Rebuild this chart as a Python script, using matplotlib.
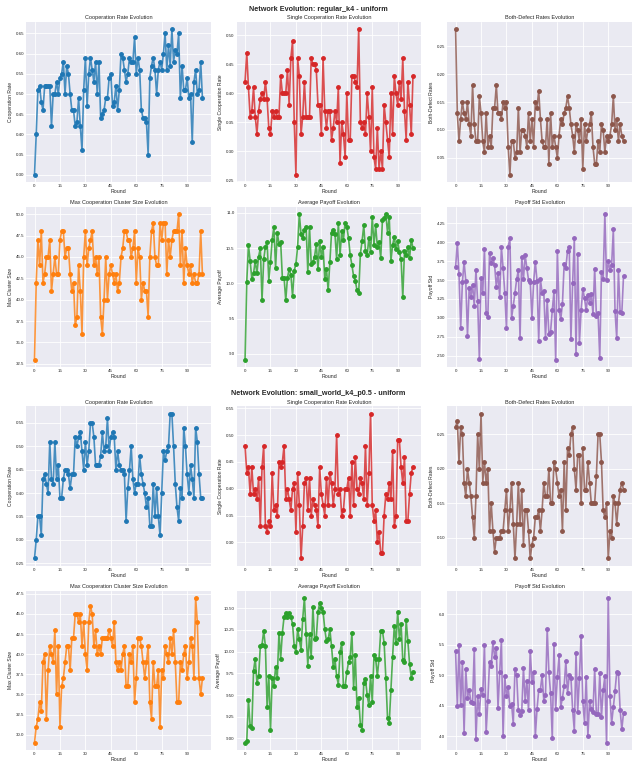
import matplotlib
matplotlib.use("Agg")
import matplotlib.pyplot as plt
from matplotlib.gridspec import GridSpec
from matplotlib.ticker import MultipleLocator
import numpy as np

# --- regular_k4 ---
coop_reg = [0.30, 0.40, 0.51, 0.52, 0.48, 0.46, 0.52, 0.52, 0.52, 0.52,
            0.42, 0.50, 0.50, 0.53, 0.50, 0.54, 0.55, 0.58, 0.50, 0.57,
            0.55, 0.50, 0.46, 0.46, 0.42, 0.43, 0.49, 0.42, 0.36, 0.51,
            0.59, 0.47, 0.55, 0.59, 0.56, 0.53, 0.58, 0.50, 0.58, 0.44,
            0.45, 0.46, 0.49, 0.49, 0.54, 0.55, 0.47, 0.48, 0.52, 0.46,
            0.51, 0.60, 0.59, 0.56, 0.53, 0.55, 0.59, 0.58, 0.58, 0.64,
            0.55, 0.59, 0.56, 0.46, 0.44, 0.44, 0.43, 0.35, 0.54, 0.57,
            0.59, 0.56, 0.50, 0.56, 0.58, 0.56, 0.60, 0.65, 0.56, 0.62,
            0.57, 0.66, 0.58, 0.61, 0.60, 0.65, 0.49, 0.57, 0.51, 0.51,
            0.54, 0.49, 0.50, 0.38, 0.53, 0.56, 0.50, 0.51, 0.58, 0.49]
single_reg = [0.42, 0.47, 0.41, 0.36, 0.37, 0.41, 0.36, 0.33, 0.37, 0.39,
              0.40, 0.39, 0.42, 0.39, 0.34, 0.33, 0.37, 0.36, 0.37, 0.36,
              0.36, 0.43, 0.40, 0.40, 0.40, 0.44, 0.38, 0.46, 0.49, 0.35,
              0.26, 0.46, 0.43, 0.33, 0.36, 0.42, 0.36, 0.36, 0.36, 0.46,
              0.45, 0.45, 0.44, 0.38, 0.38, 0.33, 0.46, 0.37, 0.34, 0.37,
              0.37, 0.32, 0.34, 0.37, 0.35, 0.41, 0.28, 0.35, 0.33, 0.29,
              0.40, 0.32, 0.32, 0.43, 0.43, 0.42, 0.41, 0.51, 0.35, 0.34,
              0.35, 0.33, 0.40, 0.36, 0.30, 0.41, 0.29, 0.27, 0.34, 0.27,
              0.30, 0.27, 0.38, 0.35, 0.32, 0.29, 0.40, 0.33, 0.43, 0.40,
              0.38, 0.42, 0.39, 0.46, 0.37, 0.32, 0.42, 0.38, 0.33, 0.43]
defect_reg = [0.28, 0.13, 0.08, 0.12, 0.15, 0.13, 0.12, 0.15, 0.11, 0.09,
              0.18, 0.11, 0.08, 0.08, 0.16, 0.13, 0.08, 0.06, 0.13, 0.07,
              0.09, 0.07, 0.14, 0.14, 0.18, 0.13, 0.13, 0.12, 0.15, 0.14,
              0.15, 0.07, 0.02, 0.08, 0.08, 0.05, 0.06, 0.14, 0.06, 0.10,
              0.10, 0.09, 0.07, 0.13, 0.08, 0.12, 0.07, 0.15, 0.14, 0.17,
              0.12, 0.08, 0.07, 0.07, 0.12, 0.04, 0.13, 0.07, 0.09, 0.07,
              0.05, 0.09, 0.12, 0.11, 0.13, 0.14, 0.16, 0.14, 0.11, 0.09,
              0.06, 0.11, 0.10, 0.08, 0.12, 0.03, 0.11, 0.08, 0.10, 0.11,
              0.13, 0.07, 0.04, 0.04, 0.08, 0.06, 0.11, 0.10, 0.06, 0.09,
              0.08, 0.09, 0.11, 0.16, 0.10, 0.12, 0.08, 0.11, 0.09, 0.08]
cluster_reg = [33, 42, 47, 44, 48, 42, 43, 45, 45, 47,
               41, 43, 45, 43, 43, 47, 48, 48, 45, 46,
               46, 43, 41, 42, 37, 38, 44, 41, 36, 45,
               48, 44, 46, 47, 48, 44, 45, 43, 45, 38,
               36, 40, 45, 40, 43, 44, 43, 42, 43, 41,
               42, 45, 46, 48, 48, 47, 47, 45, 46, 48,
               42, 46, 45, 40, 42, 41, 41, 38, 45, 48,
               49, 45, 44, 44, 49, 47, 49, 49, 43, 47,
               45, 47, 48, 48, 48, 50, 44, 48, 42, 46,
               44, 43, 44, 42, 43, 42, 42, 43, 48, 43]
payoff_reg = [8.92, 10.02, 10.54, 10.32, 10.06, 10.14, 10.32, 10.14, 10.38, 10.50,
              9.76, 10.34, 10.52, 10.58, 10.04, 10.30, 10.62, 10.80, 10.22, 10.72,
              10.56, 10.58, 10.08, 10.08, 9.76, 10.08, 10.20, 10.12, 9.82, 10.18,
              10.28, 10.52, 10.98, 10.70, 10.64, 10.76, 10.80, 10.16, 10.80, 10.28,
              10.30, 10.38, 10.56, 10.20, 10.60, 10.38, 10.52, 10.06, 10.20, 9.90,
              10.30, 10.72, 10.76, 10.70, 10.34, 10.86, 10.40, 10.74, 10.62, 10.86,
              10.80, 10.64, 10.40, 10.26, 10.10, 10.04, 9.90, 9.86, 10.42, 10.60,
              10.82, 10.46, 10.40, 10.64, 10.44, 10.94, 10.54, 10.82, 10.52, 10.58,
              10.36, 10.90, 10.92, 10.98, 10.72, 10.94, 10.32, 10.54, 10.66, 10.48,
              10.60, 10.44, 10.34, 9.80, 10.46, 10.40, 10.52, 10.36, 10.62, 10.50]
std_reg = [3.67, 3.99, 3.58, 2.87, 3.47, 3.74, 3.49, 2.76, 3.40, 3.28,
           3.44, 3.16, 3.63, 3.22, 2.46, 3.53, 3.33, 3.91, 3.07, 3.01,
           3.86, 3.73, 3.79, 3.70, 3.41, 3.59, 3.28, 3.93, 3.66, 3.33,
           2.86, 3.94, 4.05, 3.00, 3.16, 3.33, 3.51, 3.63, 2.73, 3.81,
           3.51, 3.83, 3.66, 3.50, 3.48, 3.00, 3.47, 3.74, 3.49, 2.70,
           3.51, 3.33, 3.35, 2.74, 3.23, 2.79, 2.82, 3.10, 3.35, 2.45,
           3.88, 3.11, 2.98, 3.19, 3.71, 3.66, 3.89, 3.93, 2.72, 3.46,
           4.05, 2.52, 3.84, 2.67, 3.10, 3.38, 3.26, 3.10, 3.30, 3.20,
           3.32, 3.05, 3.65, 3.03, 3.06, 2.47, 3.61, 3.51, 4.37, 3.50,
           3.75, 3.63, 3.70, 4.17, 3.09, 2.73, 3.63, 3.08, 3.06, 3.55]

# --- small_world_k4_p0.5 ---
coop_sw = [0.26, 0.30, 0.35, 0.35, 0.31, 0.43, 0.44, 0.42, 0.40, 0.51,
           0.43, 0.42, 0.51, 0.43, 0.46, 0.39, 0.39, 0.43, 0.45, 0.45,
           0.44, 0.41, 0.44, 0.44, 0.52, 0.50, 0.52, 0.53, 0.49, 0.45,
           0.51, 0.46, 0.49, 0.55, 0.55, 0.52, 0.46, 0.46, 0.46, 0.48,
           0.53, 0.49, 0.50, 0.56, 0.49, 0.52, 0.53, 0.52, 0.45, 0.49,
           0.46, 0.45, 0.45, 0.44, 0.34, 0.41, 0.45, 0.50, 0.43, 0.40,
           0.42, 0.42, 0.48, 0.44, 0.42, 0.40, 0.37, 0.39, 0.33, 0.33,
           0.42, 0.35, 0.41, 0.35, 0.31, 0.40, 0.49, 0.47, 0.49, 0.50,
           0.57, 0.57, 0.50, 0.42, 0.37, 0.34, 0.41, 0.39, 0.54, 0.50,
           0.44, 0.40, 0.46, 0.43, 0.39, 0.54, 0.51, 0.44, 0.39, 0.39]
single_sw = [0.48, 0.43, 0.44, 0.39, 0.44, 0.39, 0.40, 0.38, 0.42, 0.33,
             0.44, 0.48, 0.33, 0.32, 0.34, 0.33, 0.43, 0.36, 0.37, 0.35,
             0.45, 0.44, 0.45, 0.48, 0.38, 0.40, 0.38, 0.36, 0.40, 0.41,
             0.32, 0.43, 0.37, 0.27, 0.33, 0.41, 0.42, 0.36, 0.42, 0.35,
             0.38, 0.37, 0.36, 0.33, 0.44, 0.39, 0.37, 0.35, 0.42, 0.37,
             0.43, 0.41, 0.37, 0.40, 0.50, 0.39, 0.40, 0.35, 0.36, 0.40,
             0.40, 0.42, 0.35, 0.45, 0.37, 0.46, 0.40, 0.39, 0.42, 0.41,
             0.38, 0.48, 0.37, 0.43, 0.54, 0.37, 0.34, 0.36, 0.30, 0.32,
             0.28, 0.28, 0.35, 0.39, 0.38, 0.41, 0.38, 0.47, 0.33, 0.35,
             0.49, 0.49, 0.44, 0.41, 0.46, 0.34, 0.34, 0.39, 0.43, 0.44]
defect_sw = [0.26, 0.27, 0.21, 0.26, 0.25, 0.18, 0.16, 0.20, 0.18, 0.16,
             0.13, 0.10, 0.16, 0.25, 0.20, 0.28, 0.18, 0.21, 0.18, 0.20,
             0.11, 0.15, 0.11, 0.08, 0.10, 0.10, 0.10, 0.11, 0.11, 0.14,
             0.17, 0.11, 0.14, 0.18, 0.12, 0.07, 0.12, 0.18, 0.12, 0.17,
             0.09, 0.14, 0.14, 0.11, 0.07, 0.09, 0.10, 0.13, 0.13, 0.14,
             0.11, 0.14, 0.18, 0.16, 0.16, 0.20, 0.15, 0.15, 0.21, 0.20,
             0.18, 0.16, 0.17, 0.11, 0.21, 0.14, 0.23, 0.22, 0.25, 0.26,
             0.20, 0.17, 0.22, 0.22, 0.15, 0.23, 0.17, 0.17, 0.21, 0.18,
             0.15, 0.15, 0.15, 0.19, 0.25, 0.25, 0.21, 0.14, 0.13, 0.15,
             0.07, 0.11, 0.10, 0.16, 0.15, 0.12, 0.15, 0.17, 0.18, 0.17]
cluster_sw = [29, 31, 32, 34, 33, 39, 40, 32, 38, 41,
              40, 39, 43, 35, 41, 31, 36, 37, 39, 41,
              41, 38, 42, 42, 45, 45, 44, 45, 41, 44,
              40, 38, 44, 46, 45, 41, 43, 40, 41, 40,
              42, 42, 42, 42, 43, 42, 41, 44, 39, 38,
              39, 38, 40, 41, 36, 36, 40, 39, 41, 34,
              37, 42, 42, 41, 39, 37, 39, 41, 34, 32,
              39, 36, 36, 38, 31, 38, 37, 41, 40, 39,
              42, 40, 43, 39, 34, 34, 39, 38, 40, 41,
              37, 39, 42, 41, 37, 47, 44, 37, 35, 37]
payoff_sw = [8.95, 8.97, 9.44, 9.14, 9.12, 9.78, 9.92, 9.64, 9.72, 10.06,
             10.08, 10.24, 10.06, 9.36, 9.72, 9.10, 9.70, 9.60, 9.82, 9.70,
             10.22, 9.92, 10.22, 10.40, 10.44, 10.40, 10.44, 10.40, 10.32, 10.06,
             10.00, 10.26, 10.14, 10.02, 10.38, 10.62, 10.20, 9.84, 10.20, 9.94,
             10.52, 10.14, 10.16, 10.46, 10.56, 10.50, 10.46, 10.26, 10.12, 10.14,
             10.26, 10.06, 9.82, 9.92, 9.72, 9.62, 10.00, 10.10, 9.60, 9.60,
             9.76, 9.88, 9.94, 10.22, 9.58, 9.96, 9.36, 9.46, 9.16, 9.10,
             9.64, 9.68, 9.50, 9.38, 9.72, 9.42, 9.96, 9.92, 9.72, 9.92,
             10.24, 10.24, 10.10, 9.70, 9.24, 9.18, 9.56, 9.94, 10.30, 10.10,
             10.46, 10.14, 10.32, 9.90, 9.88, 10.36, 10.12, 9.86, 9.70, 9.76]
std_sw = [5.39, 4.49, 5.49, 4.51, 5.21, 4.05, 5.10, 4.63, 4.76, 4.56,
          4.55, 5.43, 3.95, 4.66, 4.37, 4.78, 4.67, 5.50, 4.06, 4.58,
          5.22, 5.15, 5.54, 5.30, 5.44, 4.46, 5.05, 5.57, 4.00, 4.99,
          4.65, 4.80, 4.49, 4.53, 4.20, 5.10, 5.00, 4.42, 4.35, 4.41,
          5.12, 4.58, 4.90, 4.42, 5.40, 4.89, 5.05, 4.00, 4.44, 4.75,
          4.76, 5.00, 4.58, 4.67, 5.76, 5.05, 4.70, 3.96, 5.51, 4.44,
          4.97, 5.33, 4.48, 4.63, 4.82, 5.23, 4.70, 5.00, 4.96, 4.43,
          4.09, 5.37, 4.40, 4.96, 5.65, 4.57, 4.22, 4.97, 4.00, 4.58,
          4.45, 4.40, 5.10, 4.37, 4.36, 5.03, 4.32, 4.75, 4.98, 3.89,
          6.27, 4.65, 4.21, 4.47, 4.74, 5.05, 5.04, 4.43, 4.11, 4.38]

TITULOS = ["Cooperation Rate Evolution", "Single Cooperation Rate Evolution",
           "Both-Defect Rates Evolution", "Max Cooperation Cluster Size Evolution",
           "Average Payoff Evolution", "Payoff Std Evolution"]
ETIQUETAS = ["Cooperation Rate", "Single Cooperation Rate", "Both-Defect Rates",
             "Max Cluster Size", "Average Payoff", "Payoff Std"]
COLORES = ["#1f77b4", "#d62728", "#8c564b", "#ff7f0e", "#2ca02c", "#9467bd"]

plt.style.use("seaborn-v0_8-darkgrid")
plt.rcParams["font.family"] = ["Liberation Sans", "DejaVu Sans"]


def bloque(fig, gs, titulo, series):
    for i, datos in enumerate(series):
        ax = fig.add_subplot(gs[i // 3, i % 3])
        x = np.arange(len(datos))
        ax.plot(x, datos, color=COLORES[i], linewidth=1.2, alpha=0.8)
        ax.plot(x, datos, "o", color=COLORES[i], markersize=2.5)
        ax.set_title(TITULOS[i], fontsize=4, pad=2)
        ax.set_ylabel(ETIQUETAS[i], fontsize=3.6, labelpad=2)
        ax.set_xlabel("Round", fontsize=3.8, labelpad=1)
        ax.xaxis.set_major_locator(MultipleLocator(15))
        ax.tick_params(labelsize=3.2, pad=1.5, length=0)
        ax.grid(True, color="white", linewidth=0.6)
    top = gs.top
    fig.text(0.5, top + 0.012, titulo, ha="center", va="bottom",
             fontsize=5.2, fontweight="bold")


fig = plt.figure(figsize=(6.37, 7.61), dpi=100)
fig.patch.set_facecolor("white")

gs1 = GridSpec(2, 3, figure=fig, left=0.041, right=0.992, top=0.971, bottom=0.518,
               wspace=0.14, hspace=0.156)
gs2 = GridSpec(2, 3, figure=fig, left=0.041, right=0.992, top=0.466, bottom=0.0145,
               wspace=0.14, hspace=0.156)

bloque(fig, gs1, "Network Evolution: regular_k4 - uniform",
       [coop_reg, single_reg, defect_reg, cluster_reg, payoff_reg, std_reg])
bloque(fig, gs2, "Network Evolution: small_world_k4_p0.5 - uniform",
       [coop_sw, single_sw, defect_sw, cluster_sw, payoff_sw, std_sw])

fig.savefig("out.png", dpi=100, facecolor="white")
